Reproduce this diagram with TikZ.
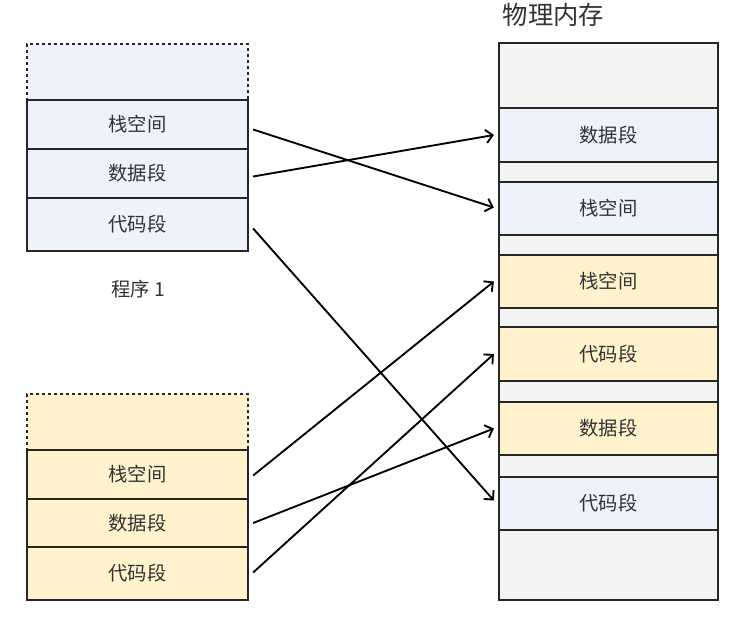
\documentclass[tikz,border=0pt]{standalone}
\usepackage{fontspec}
\setmainfont{Noto Sans CJK SC}
\usetikzlibrary{arrows.meta,calc}
\definecolor{segblue}{HTML}{EEF2FB}
\definecolor{segyellow}{HTML}{FFF2CC}
\definecolor{seggray}{HTML}{F4F4F4}
\definecolor{txt}{HTML}{333333}
\tikzset{
  seg/.style={draw=black!85, line width=1.7pt, minimum width=#1*0.75pt, inner sep=0pt, text=txt, font=\fontsize{14.5}{16}\selectfont},
  lseg/.style={seg=221, minimum height=#1*0.75pt},
  rseg/.style={seg=219, minimum height=#1*0.75pt},
  dashtop/.style={fill=#1, draw=black!85, dashed, line width=1.4pt, dash pattern=on 2.5pt off 2pt},
  link/.style={line width=1.4pt, -{Straight Barb[length=5pt,width=10pt,line width=1.4pt]}}
}
\begin{document}
\begin{tikzpicture}[x=0.75pt,y=-0.75pt]
\useasboundingbox (0,0) rectangle (748,621);
% program 1
\node[lseg=56, dashtop=segblue, minimum width=221*0.75pt] (p1top) at (137.5,72) {};
\node[lseg=49, fill=segblue] (p1s) at (137.5,124.5) {栈空间};
\node[lseg=49, fill=segblue] (p1d) at (137.5,173.5) {数据段};
\node[lseg=53, fill=segblue] (p1c) at (137.5,224.5) {代码段};
\node[text=txt, font=\fontsize{14.5}{16}\selectfont] (l1) at (138,289) {程序 1};
% program 2
\node[lseg=56, dashtop=segyellow, minimum width=221*0.75pt] (p2top) at (137.5,422) {};
\node[lseg=49, fill=segyellow] (p2s) at (137.5,474.5) {栈空间};
\node[lseg=48, fill=segyellow] (p2d) at (137.5,523) {数据段};
\node[lseg=53, fill=segyellow] (p2c) at (137.5,573.5) {代码段};
% physical memory
\node[anchor=west, text=txt, font=\fontsize{19}{20}\selectfont] (title) at (498,15) {物理内存};
\node[rseg=557, fill=seggray] (mem) at (608.5,321.5) {};
\node[rseg=54, fill=segblue] (m1) at (608.5,135) {数据段};
\node[rseg=53, fill=segblue] (m2) at (608.5,208.5) {栈空间};
\node[rseg=53, fill=segyellow] (m3) at (608.5,281.5) {栈空间};
\node[rseg=54, fill=segyellow] (m4) at (608.5,354) {代码段};
\node[rseg=53, fill=segyellow] (m5) at (608.5,428.5) {数据段};
\node[rseg=53, fill=segblue] (m6) at (608.5,503.5) {代码段};
% connectors
\draw[link] ($(p1s.east)+(4,5)$) -- ($(m2.west)+(-4,-1)$);
\draw[link] ($(p1d.east)+(4,3)$) -- ($(m1.west)+(-4,0)$);
\draw[link] ($(p1c.east)+(4,4)$) -- ($(m6.west)+(-4,-3)$);
\draw[link] ($(p2s.east)+(4,1)$) -- ($(m3.west)+(-4,0)$);
\draw[link] ($(p2d.east)+(4,0)$) -- ($(m5.west)+(-4,0)$);
\draw[link] ($(p2c.east)+(4,-1)$) -- ($(m4.west)+(-4,0)$);
\end{tikzpicture}
\end{document}
